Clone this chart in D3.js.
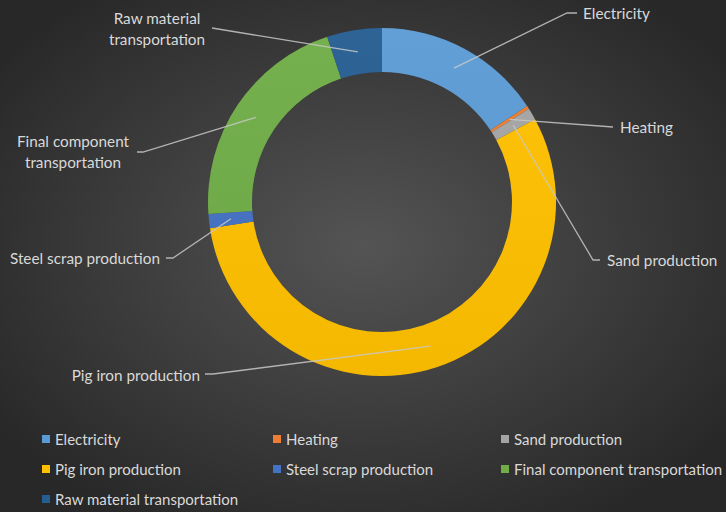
<!DOCTYPE html>
<html>
<head>
<meta charset="utf-8">
<script src="https://cdn.jsdelivr.net/npm/d3@7"></script>
<style>
  html, body { margin: 0; padding: 0; background: #262626; }
  svg { display: block; }
  text { font-family: Lato, "Noto Sans", sans-serif; fill: #d9d9d9; }
</style>
</head>
<body>
<svg id="chart" width="726" height="512"></svg>
<script>
// Share of emissions by process stage (percent)
const categories = [
  "Electricity",
  "Heating",
  "Sand production",
  "Pig iron production",
  "Steel scrap production",
  "Final component transportation",
  "Raw material transportation"
];
const shares = [15.7, 0.3, 1.1, 55.5, 1.3, 21.0, 5.1];
const colors = ["#5b9bd5", "#ed7d31", "#a5a5a5", "#ffc000", "#4472c4", "#70ad47", "#255e91"];

// Callout placement: leader end points and text lines for each slice
const callouts = {
  "Electricity":                    { pts: [[567, 13], [577, 13]], tx: 583, ty: 13, anchor: "start", lines: ["Electricity"] },
  "Heating":                        { pts: [[613, 127]],           tx: 620, ty: 127, anchor: "start", lines: ["Heating"] },
  "Sand production":                { pts: [[593, 260], [600, 260]], tx: 607, ty: 260, anchor: "start", lines: ["Sand production"] },
  "Pig iron production":            { pts: [[213, 374], [205, 374]], tx: 200, ty: 375, anchor: "end", lines: ["Pig iron production"] },
  "Steel scrap production":         { pts: [[173, 258], [166, 258]], tx: 160, ty: 258, anchor: "end", lines: ["Steel scrap production"] },
  "Final component transportation": { pts: [[143, 152], [137, 152]], tx: 73, ty: 141, anchor: "middle", lines: ["Final component", "transportation"] },
  "Raw material transportation":    { pts: [[212, 28]],            tx: 157, ty: 18, anchor: "middle", lines: ["Raw material", "transportation"] }
};

const W = 726, H = 512;
const cx = 382, cy = 202, outerR = 174, innerR = 130;
const lineH = 21;
const fontSize = "15.3px";
const legendFontSize = "15px";

const svg = d3.select("#chart");
const defs = svg.append("defs");

const bg = defs.append("radialGradient").attr("id", "bg")
  .attr("cx", "50%").attr("cy", "48%").attr("r", "62%");
bg.append("stop").attr("offset", "0%").attr("stop-color", "#545454");
bg.append("stop").attr("offset", "100%").attr("stop-color", "#282828");

const shade = defs.append("linearGradient").attr("id", "shade")
  .attr("x1", 0).attr("y1", 0).attr("x2", 0).attr("y2", 1);
shade.append("stop").attr("offset", "0%").attr("stop-color", "#ffffff").attr("stop-opacity", 0.04);
shade.append("stop").attr("offset", "100%").attr("stop-color", "#000000").attr("stop-opacity", 0.04);

svg.append("rect").attr("width", W).attr("height", H).attr("fill", "url(#bg)");

const color = d3.scaleOrdinal().domain(categories).range(colors);
const data = categories.map((c, i) => ({ name: c, value: shares[i] }));

const pie = d3.pie().value(d => d.value).sort(null);
const arc = d3.arc().innerRadius(innerR).outerRadius(outerR);
const arcs = pie(data);

const g = svg.append("g").attr("transform", `translate(${cx},${cy})`);

g.selectAll("path.slice")
  .data(arcs)
  .join("path")
  .attr("class", "slice")
  .attr("d", arc)
  .attr("fill", d => color(d.data.name));

// soft vertical shading over the ring
g.append("path")
  .attr("d", d3.arc().innerRadius(innerR).outerRadius(outerR)({ startAngle: 0, endAngle: 2 * Math.PI }))
  .attr("fill", "url(#shade)")
  .attr("pointer-events", "none");

// leader lines from each slice centroid to its label
const line = d3.line();
arcs.forEach(a => {
  const c = callouts[a.data.name];
  const [mx, my] = arc.centroid(a);
  const pts = [[cx + mx, cy + my]].concat(c.pts);
  svg.append("path")
    .attr("d", line(pts))
    .attr("fill", "none")
    .attr("stroke", "#c8c8c8")
    .attr("stroke-opacity", 0.85)
    .attr("stroke-width", 1.3);
});

// labels
arcs.forEach(a => {
  const c = callouts[a.data.name];
  const t = svg.append("text")
    .attr("x", c.tx).attr("y", c.ty)
    .attr("text-anchor", c.anchor)
    .attr("dominant-baseline", "central")
    .style("font-size", fontSize);
  c.lines.forEach((ln, i) => {
    t.append("tspan").attr("x", c.tx).attr("dy", i === 0 ? 0 : lineH).text(ln);
  });
});

// legend: three columns
const legCols = [42, 273, 501], legRows = [439, 469, 499];
const legend = svg.append("g");
categories.forEach((name, i) => {
  const x = legCols[i % 3], y = legRows[Math.floor(i / 3)];
  const item = legend.append("g").attr("transform", `translate(${x},${y})`);
  item.append("rect").attr("x", 0).attr("y", -4).attr("width", 8).attr("height", 8).attr("fill", color(name));
  item.append("text").attr("x", 13).attr("y", 0)
    .attr("dominant-baseline", "central")
    .style("font-size", legendFontSize)
    .text(name);
});
</script>
</body>
</html>
